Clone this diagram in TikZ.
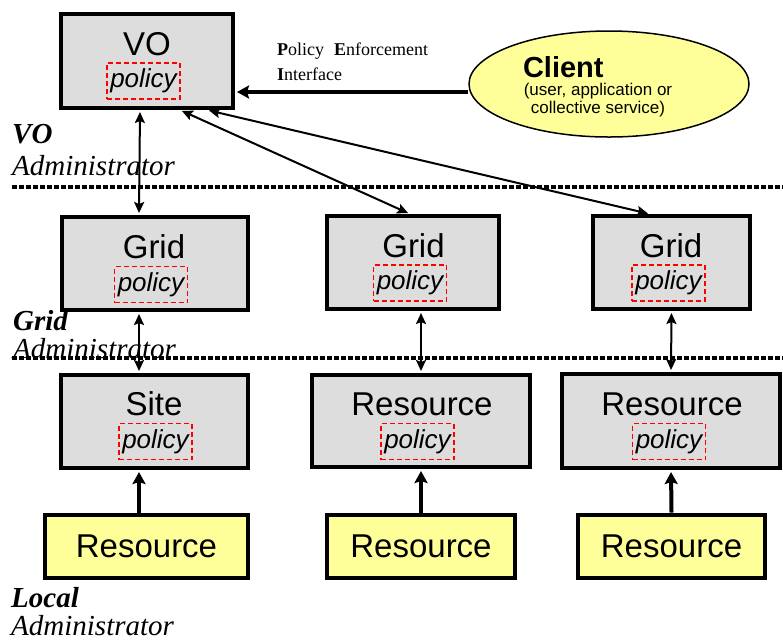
\documentclass[tikz,border=0pt]{standalone}
\usepackage{fontspec}
\setmainfont{Liberation Sans}
\newfontfamily\labelfont{Liberation Serif}
\usetikzlibrary{arrows.meta,shapes.geometric}

\definecolor{boxgray}{HTML}{DDDDDD}
\definecolor{resyellow}{HTML}{FFFF99}

\begin{document}
\begin{tikzpicture}[x=1pt, y=1pt,
    layer/.style={draw, line width=4pt, fill=boxgray, inner sep=0pt},
    local/.style={draw, line width=4pt, fill=resyellow, inner sep=0pt, minimum height=63pt, font=\fontsize{33}{36}\selectfont},
    title/.style={anchor=base, inner sep=0pt, font=\fontsize{33}{36}\selectfont},
    policy/.style={draw=red, dash pattern=on 5pt off 3pt, line width=1.5pt, minimum width=73pt, minimum height=36pt, inner sep=0pt, font=\fontsize{26}{28}\selectfont\itshape},
    admin/.style={anchor=base west, inner sep=0pt, font=\labelfont\fontsize{29}{30}\selectfont\itshape},
    sep/.style={line width=4pt, dash pattern=on 4.5pt off 2.5pt},
    link/.style={line width=2pt, <->, >={Stealth[length=11pt,width=10pt,inset=2pt]}, shorten <=2pt, shorten >=2pt},
    feed/.style={line width=4pt, -{Stealth[length=12pt,width=13pt,inset=2pt]}, shorten >=2pt}
]
\useasboundingbox (0,0) rectangle (783,-641);

% Administration boundaries
\draw[sep] (12,-187) -- (783,-187);
\draw[sep] (12,-358) -- (783,-358);

% VO level
\node[layer, minimum width=172pt, minimum height=94pt] (vo) at (147,-61) {};
\node[title] (votitle) at (147,-55) {VO};
\node[policy] (vopolicy) at (143.5,-81) {policy};

% Client
\node[ellipse, draw, line width=1.5pt, fill=resyellow, minimum width=280pt, minimum height=106pt] (client) at (609,-84) {};
\node[align=center, inner sep=0pt, font=\fontsize{17}{18}\selectfont] (clienttext) at (598,-87) {\makebox[150pt][l]{\fontsize{29}{30}\selectfont\bfseries Client}\\(user, application or\\collective service)};
\node[anchor=north west, inner sep=0pt, align=left, font=\labelfont\fontsize{18}{25}\selectfont] (pei) at (277,-43) {\textbf{P}olicy\hspace{10pt}\textbf{E}nforcement\\\textbf{I}nterface};

% Grid level
\node[layer, minimum width=186pt, minimum height=93pt] (grid1) at (155,-263.5) {};
\node[title] (grid1title) at (154,-258) {Grid};
\node[policy] (grid1policy) at (151,-284.5) {policy};
\node[layer, minimum width=172pt, minimum height=93pt] (grid2) at (413,-262.5) {};
\node[title] (grid2title) at (413.5,-257) {Grid};
\node[policy] (grid2policy) at (410,-283) {policy};
\node[layer, minimum width=157pt, minimum height=93pt] (grid3) at (671.5,-262.5) {};
\node[title] (grid3title) at (671,-257) {Grid};
\node[policy] (grid3policy) at (668.5,-283) {policy};

% Site / resource level
\node[layer, minimum width=187pt, minimum height=93pt] (site) at (154.5,-421.5) {};
\node[title] (sitetitle) at (154,-415) {Site};
\node[policy] (sitepolicy) at (155.5,-441.5) {policy};
\node[layer, minimum width=218pt, minimum height=92pt] (res2) at (421,-421) {};
\node[title] (res2title) at (422,-415) {Resource};
\node[policy] (res2policy) at (417.5,-441.5) {policy};
\node[layer, minimum width=218pt, minimum height=94pt] (res3) at (671,-421) {};
\node[title] (res3title) at (672,-415) {Resource};
\node[policy] (res3policy) at (669,-441.5) {policy};

% Local resources
\node[local, minimum width=203pt] (loc1) at (146.5,-546) {Resource};
\node[local, minimum width=188pt] (loc2) at (421,-546) {Resource};
\node[local, minimum width=187pt] (loc3) at (671.5,-546) {Resource};

% Connections
\draw[feed] ([yshift=-8pt]client.west) -- ([yshift=-31pt]vo.east);
\draw[link] ([xshift=-7pt]vo.south) -- ([xshift=-16pt]grid1.north);
\draw[link] ([xshift=33pt]vo.south) -- ([xshift=-3pt]grid2.north);
\draw[link] ([xshift=60pt]vo.south) -- ([xshift=-21.5pt]grid3.north);
\draw[link] ([xshift=-16pt]grid1.south) -- ([xshift=-15.5pt]site.north);
\draw[link] ([xshift=8pt]grid2.south) -- (res2.north);
\draw[link] (grid3.south) -- (res3.north);
\draw[feed] ([xshift=-7.5pt]loc1.north) -- ([xshift=-15.5pt]site.south);
\draw[feed] (loc2.north) -- (res2.south);
\draw[feed] (loc3.north) -- (res3.south);

% Administrator labels
\node[admin] (voadm) at (12,-143) {\textbf{VO}};
\node[admin] (voadmin) at (12,-175) {Administrator};
\node[admin] (gridadm) at (13,-330) {\textbf{Grid}};
\node[admin] (gridadmin) at (13,-358) {Administrator};
\node[admin] (localadm) at (11,-607) {\textbf{Local}};
\node[admin] (localadmin) at (11,-635) {Administrator};
\end{tikzpicture}
\end{document}
